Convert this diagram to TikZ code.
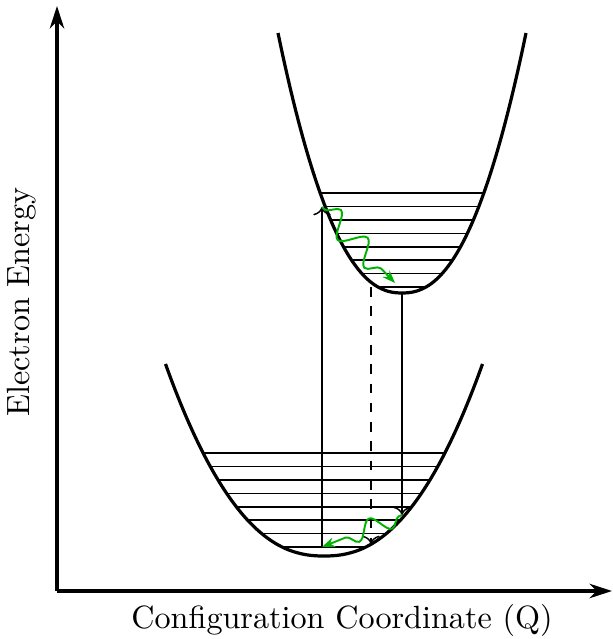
\documentclass[tikz,border=0pt]{standalone}
\usepackage{amsmath,amssymb}
\usepackage{xcolor}
\usetikzlibrary{arrows.meta, decorations.pathmorphing, positioning}
\tikzset{
  axis/.style={line width=1pt, -{Stealth[length=7pt, width=4.5pt]}},
  well/.style={line width=1pt},
  level/.style={line width=0.45pt},
  transition/.style={line width=0.45pt, ->},
  relax/.style={green!70!black, line width=0.6pt, decorate,
    decoration={snake, amplitude=3.6pt, segment length=12pt, pre length=1pt,
      post length=3pt},
    -{Stealth[length=4pt, width=3pt]}}
}
% potential well: centre x, bottom y, half width, height
\newcommand{\wellcurve}[4]{plot[domain=-#3:#3, samples=60, smooth]
  ({#1+\x}, {#2+#4*abs(\x/#3)^2.3})}

\begin{document}
\begin{tikzpicture}[x=0.01093cm, y=0.01093cm]
  \useasboundingbox (-57,-48) rectangle (555,591);

  % axes
  \coordinate (O) at (0,0);
  \coordinate (ytop) at (0,585);
  \coordinate (xend) at (555,0);
  \draw[axis] (O) -- (ytop);
  \draw[axis] (O) -- (xend);
  \node[rotate=90] (elabel) at (-35,289) {Electron Energy};
  \node (qlabel) at (285,-29) {Configuration Coordinate (Q)};

  % ground state well and its levels
  \begin{scope}
    \clip \wellcurve{267}{35}{158.5}{192} -- cycle;
    \foreach \k in {0,...,7}
      \draw[level] (100,{44+13.4*\k}) -- (440,{44+13.4*\k});
  \end{scope}
  \draw[well] \wellcurve{267}{35}{158.5}{192};

  % excited state well and its levels
  \begin{scope}
    \clip \wellcurve{345}{298}{124}{260} -- cycle;
    \foreach \k in {0,...,7}
      \draw[level] (200,{304+13.4*\k}) -- (490,{304+13.4*\k});
  \end{scope}
  \draw[well] \wellcurve{345}{298}{124}{260};

  % transitions
  \coordinate (absB)  at (265,44);
  \coordinate (absT)  at (265,384);
  \coordinate (relT)  at (338,308);
  \coordinate (dashT) at (314,304);
  \coordinate (dashB) at (314,47);
  \coordinate (emT)   at (345,298);
  \coordinate (emB)   at (345,76);

  \draw[transition] (absB) -- (absT);
  \draw[transition, dashed] (dashT) -- (dashB);
  \draw[transition] (emT) -- (emB);
  \draw[relax] (absT) -- (relT);
  \draw[relax, decoration={amplitude=2.8pt, segment length=11pt}] (emB) -- (absB);
\end{tikzpicture}
\end{document}
